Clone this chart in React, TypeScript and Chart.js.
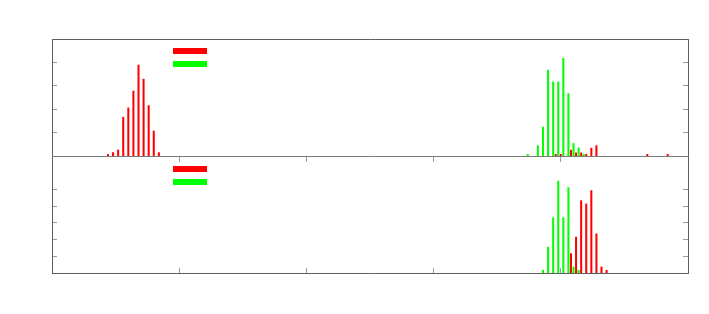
import { useEffect, useRef } from 'react';
import { Chart, registerables } from 'chart.js';

Chart.register(...registerables);

// Bin centres (x) and heights (y) for each series
const topRedX = [0.45, 0.49, 0.53, 0.57, 0.61, 0.65, 0.69, 0.73, 0.77, 0.81, 0.85, 3.97, 4.01, 4.09, 4.13, 4.17, 4.21, 4.25, 4.29, 4.69, 4.85];
const topRedY = [0.08, 0.16, 0.27, 1.67, 2.07, 2.79, 3.9, 3.3, 2.17, 1.08, 0.16, 0.085, 0.085, 0.265, 0.15, 0.15, 0.085, 0.35, 0.46, 0.085, 0.085];
const topGreenX = [3.73, 3.81, 3.85, 3.89, 3.93, 3.97, 4.01, 4.05, 4.09, 4.13, 4.17];
const topGreenY = [0.085, 0.45, 1.25, 3.68, 3.18, 3.18, 4.19, 2.68, 0.55, 0.36, 0.085];
const bottomRedX = [4.09, 4.13, 4.17, 4.21, 4.25, 4.29, 4.33, 4.37];
const bottomRedY = [1.18, 2.17, 4.35, 4.15, 4.95, 2.36, 0.38, 0.18];
const bottomGreenX = [3.85, 3.89, 3.93, 3.97, 4.01, 4.05, 4.09, 4.13];
const bottomGreenY = [0.18, 1.57, 3.33, 5.52, 3.33, 5.13, 0.38, 0.18];

const xTicks = [1, 2, 3, 4];
const topYTicks = [1, 2, 3, 4];
const bottomYTicks = [1, 2, 3, 4, 5];
const topYMax = 5;
const bottomYMax = 7;
const xMin = 0;
const xMax = 5;

const RED = '#ff0000';
const GREEN = '#00ff00';
const FRAME = '#5e5e5e';
const MID = '#7c7c7c';
const TICK = '#9a9a9a';

const pts = (xs: number[], ys: number[]) => xs.map((x, i) => ({ x, y: ys[i] }));

const keyPlugin = {
  id: 'panelKeys',
  afterDatasetsDraw(chart: any) {
    const { ctx, chartArea } = chart;
    const panels = [
      { scale: chart.scales.yTop, sets: [0, 1], offset: 9 },
      { scale: chart.scales.yBot, sets: [2, 3], offset: 10 },
    ];
    ctx.save();
    for (const p of panels) {
      p.sets.forEach((di, k) => {
        const ds = chart.data.datasets[di];
        ctx.fillStyle = ds.backgroundColor;
        ctx.fillRect(chartArea.left + 121, Math.round(p.scale.top) + p.offset + k * 13, 34, 6);
      });
    }
    ctx.restore();
  },
};

const yAxis = (position: string, stack: string, weight: number, max: number, ticks: number[]) => ({
  type: 'linear',
  position,
  stack,
  stackWeight: 1,
  weight,
  min: 0,
  max,
  ticks: { display: false },
  afterBuildTicks: (s: any) => {
    s.ticks = ticks.map((v) => ({ value: v }));
  },
  afterFit: (s: any) => {
    s.width = 0;
  },
  grid: { offset: false, drawOnChartArea: false, drawTicks: true, tickLength: -5, color: TICK, lineWidth: 1 },
  border: { display: true, color: FRAME, width: 1 },
});

export default function App() {
  const ref = useRef<HTMLCanvasElement>(null);

  useEffect(() => {
    const chart = new Chart(ref.current as HTMLCanvasElement, {
      type: 'bar',
      data: {
        datasets: [
          { label: '', data: pts(topRedX, topRedY), backgroundColor: RED, xAxisID: 'x', yAxisID: 'yTop', stack: 'red' },
          { label: '', data: pts(topGreenX, topGreenY), backgroundColor: GREEN, xAxisID: 'x', yAxisID: 'yTop', stack: 'green' },
          { label: '', data: pts(bottomRedX, bottomRedY), backgroundColor: RED, xAxisID: 'x', yAxisID: 'yBot', stack: 'red' },
          { label: '', data: pts(bottomGreenX, bottomGreenY), backgroundColor: GREEN, xAxisID: 'x', yAxisID: 'yBot', stack: 'green' },
        ] as any,
      },
      options: {
        animation: false,
        responsive: true,
        maintainAspectRatio: false,
        devicePixelRatio: 1,
        layout: { padding: { left: 52, right: 21, top: 39, bottom: 41 } },
        datasets: { bar: { barPercentage: 0.8, categoryPercentage: 1, borderWidth: 0 } },
        plugins: { legend: { display: false }, tooltip: { enabled: false }, title: { display: false } },
        events: [],
        scales: {
          x: {
            type: 'linear',
            axis: 'x',
            position: 'bottom',
            min: xMin,
            max: xMax,
            offset: false,
            ticks: { display: false },
            afterBuildTicks: (s: any) => {
              s.ticks = xTicks.map((v) => ({ value: v }));
            },
            afterFit: (s: any) => {
              s.height = 0;
            },
            grid: { offset: false, drawOnChartArea: false, drawTicks: true, tickLength: -5, color: TICK, lineWidth: 1 },
            border: { display: true, color: FRAME, width: 1 },
          },
          xTop: {
            type: 'linear',
            axis: 'x',
            position: 'top',
            min: xMin,
            max: xMax,
            offset: false,
            ticks: { display: false },
            afterFit: (s: any) => {
              s.height = 0;
            },
            grid: { display: false, offset: false, drawOnChartArea: false, drawTicks: false },
            border: { display: true, color: FRAME, width: 1 },
          },
          yTop: yAxis('left', 'L', 2, topYMax, topYTicks),
          yBot: yAxis('left', 'L', 1, bottomYMax, bottomYTicks),
          yTopR: yAxis('right', 'R', 1, topYMax, topYTicks),
          yBotR: yAxis('right', 'R', 2, bottomYMax, bottomYTicks),
          xMid: {
            type: 'linear',
            axis: 'x',
            position: { yBot: bottomYMax },
            min: xMin,
            max: xMax,
            offset: false,
            ticks: { display: false },
            afterBuildTicks: (s: any) => {
              s.ticks = xTicks.map((v) => ({ value: v }));
            },
            afterFit: (s: any) => {
              s.height = 0;
            },
            grid: { offset: false, drawOnChartArea: false, drawTicks: true, tickLength: 5, color: TICK, lineWidth: 1 },
            border: { display: true, color: MID, width: 1 },
          },
        } as any,
      },
      plugins: [keyPlugin],
    });
    return () => chart.destroy();
  }, []);

  return (
    <div style={{ position: 'fixed', left: 0, top: 0, width: 709, height: 314, background: '#ffffff' }}>
      <canvas ref={ref} />
    </div>
  );
}
